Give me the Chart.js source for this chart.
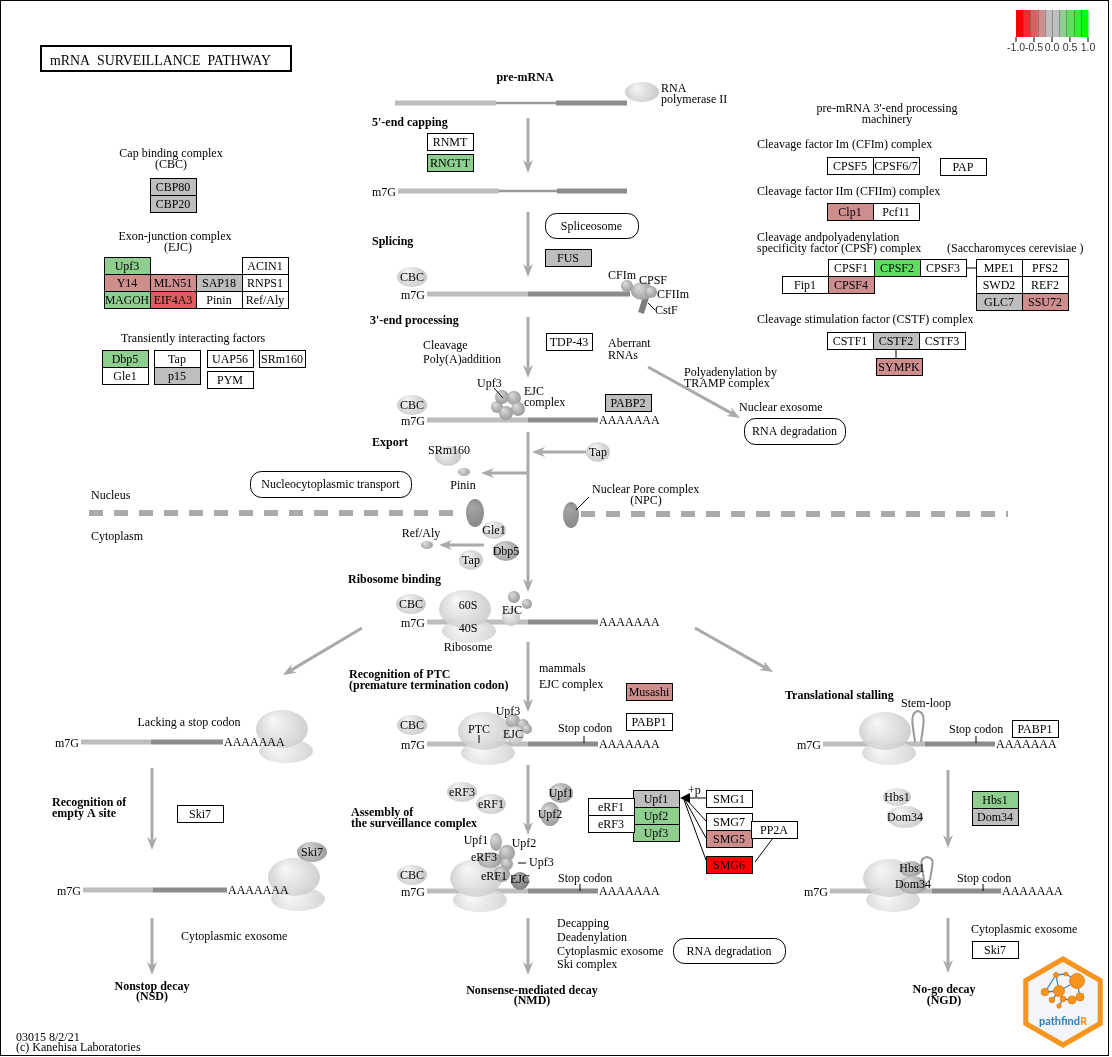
<!DOCTYPE html>
<html>
<head>
<meta charset="utf-8">
<title>mRNA surveillance pathway</title>
<script src="https://cdn.jsdelivr.net/npm/chart.js@4/dist/chart.umd.min.js"></script>
<style>
  html, body { margin: 0; padding: 0; background: #fff; }
  #wrap { width: 1112px; height: 1057px; }
</style>
</head>
<body>
<div id="wrap"><canvas id="kegg" width="1112" height="1057"></canvas></div>
<script>
// gene products shown in the map, in drawing order
const geneNames = [
  'CBP80', 'CBP20',
  'Upf3', 'ACIN1', 'Y14', 'MLN51', 'SAP18', 'RNPS1', 'MAGOH', 'EIF4A3', 'Pinin', 'Ref/Aly',
  'Dbp5', 'Gle1', 'Tap', 'p15', 'UAP56', 'PYM', 'SRm160',
  'RNMT', 'RNGTT', 'FUS', 'TDP-43', 'PABP2',
  'CPSF5', 'CPSF6/7', 'PAP', 'Clp1', 'Pcf11',
  'CPSF1', 'CPSF2', 'CPSF3', 'Fip1', 'CPSF4',
  'MPE1', 'PFS2', 'SWD2', 'REF2', 'GLC7', 'SSU72',
  'CSTF1', 'CSTF2', 'CSTF3', 'SYMPK',
  'Musashi', 'PABP1',
  'Upf1', 'Upf2', 'Upf3', 'eRF1', 'eRF3',
  'SMG1', 'SMG7', 'SMG5', 'PP2A', 'SMG6',
  'Ski7', 'PABP1', 'Hbs1', 'Dom34', 'Ski7'
];
// estimated log fold change per gene (null = not in the input)
const geneValues = [
  0.05, -0.1,
  0.3, null, -0.3, -0.28, 0.08, null, 0.27, -0.5, null, null,
  0.32, null, null, -0.05, null, null, null,
  null, 0.26, 0.1, null, -0.08,
  null, null, null, -0.32, null,
  null, 0.5, null, null, -0.35,
  null, null, null, null, 0.02, -0.3,
  null, 0.06, null, -0.33,
  -0.3, null,
  0.1, 0.3, 0.28, null, null,
  null, null, -0.31, null, -1.2,
  null, null, 0.29, -0.1, null
];
// colour key
const legendTicks = [-1.0, -0.5, 0.0, 0.5, 1.0];
const legendLabels = ['-1.0', '-0.5', '0.0', '0.5', '1.0'];
const legendColors = ['#FF0000', '#EF2F2F', '#DE5F5F', '#CE8E8E', '#BEBEBE',
                      '#BEBEBE', '#8ECE8E', '#5FDE5F', '#2FEF2F', '#00FF00'];

// ---- map layout (top-left corner of each gene box, 46 x 17) ----
const geneBoxes = [
  [150, 178], [150, 195],
  [104, 257], [242, 257], [104, 274], [150, 274], [196, 274], [242, 274], [104, 291], [150, 291], [196, 291], [242, 291],
  [102, 350], [102, 367], [154, 350], [154, 367], [207, 350], [207, 371], [259, 350],
  [427, 133], [427, 154], [545, 249], [546, 333], [605, 394],
  [827, 157], [873, 157], [940, 158], [827, 203], [873, 203],
  [828, 259], [874, 259], [920, 259], [782, 276], [828, 276],
  [976, 259], [1022, 259], [976, 276], [1022, 276], [976, 293], [1022, 293],
  [827, 332], [873, 332], [919, 332], [876, 358],
  [626, 683], [626, 713],
  [633, 790], [633, 807], [633, 824], [588, 798], [588, 815],
  [706, 790], [706, 813], [706, 830], [751, 821], [706, 856],
  [177, 805], [1012, 720], [972, 791], [972, 808], [972, 941]
];
const mapBoxes = [
  ['Spliceosome', 545, 213, 93, 25],
  ['RNA degradation', 744, 418, 101, 26],
  ['Nucleocytoplasmic transport', 250, 471, 161, 26],
  ['RNA degradation', 673, 938, 112, 25]
];
// mRNA: start, thin start, thin end, end, y, m7G cap, poly(A) tail
const mrnaLines = [
  [395, 496, 556, 627, 103, 0, 0],
  [398, 499, 557, 627, 191, 1, 0],
  [427, 528, 528, 630, 294, 1, 0],
  [427, 528, 528, 598, 420, 1, 1],
  [427, 528, 528, 598, 622, 1, 1],
  [81, 151, 151, 223, 742, 1, 1],
  [427, 528, 528, 598, 744, 1, 1],
  [823, 925, 925, 995, 744, 1, 1],
  [83, 153, 153, 227, 890, 1, 1],
  [427, 528, 528, 598, 891, 1, 1],
  [830, 932, 932, 1001, 891, 1, 1]
];
const grayArrows = [
  [528, 118, 528, 173], [528, 212, 528, 277], [528, 317, 528, 378], [528, 432, 528, 592],
  [586, 452, 532, 452], [528, 473, 481, 473], [484, 545, 439, 545], [648, 367, 740, 418],
  [362, 628, 283, 675], [695, 628, 773, 672], [528, 642, 528, 712], [528, 765, 528, 835],
  [528, 918, 528, 975], [152, 768, 152, 850], [152, 918, 152, 975], [948, 770, 948, 848],
  [948, 918, 948, 973]
];
const thinLines = [
  [967, 268, 976, 268], [896, 349, 896, 358], [773, 838, 755, 862],
  [706, 798, 688, 798], [706, 821, 686, 799], [706, 838, 685, 800], [706, 860, 684, 800],
  [584, 736, 584, 743], [976, 736, 976, 743], [580, 884, 580, 891], [983, 884, 983, 891],
  [479, 735, 479, 743], [494, 388, 503, 398], [518, 863, 526, 863], [576, 510, 589, 497],
  [648, 303, 655, 310]
];
// label, x, y, rx, ry, shade (0 light, 1 medium, 2 dark)
const spheres = [
  ['', 642, 92, 17, 10, 0],
  ['CBC', 412, 277, 15, 10, 0], ['CBC', 412, 405, 15, 10, 0], ['CBC', 411, 604, 15, 10, 0],
  ['CBC', 412, 725, 15, 10, 0], ['CBC', 412, 875, 15, 10, 0],
  ['', 448, 456, 13, 10, 0], ['', 464, 472, 6, 4, 1], ['Tap', 598, 452, 12, 10, 0],
  ['Gle1', 494, 530, 12, 9, 0], ['Dbp5', 506, 551, 13, 10, 1], ['Tap', 471, 560, 12, 10, 0],
  ['', 427, 545, 6, 4, 1],
  ['eRF3', 462, 792, 15, 10, 0], ['eRF1', 491, 804, 15, 10, 0],
  ['Upf1', 561, 793, 12, 10, 1], ['Upf2', 550, 814, 10, 12, 1],
  ['Hbs1', 897, 797, 14, 9, 0], ['Dom34', 905, 817, 18, 11, 0],
  ['Ski7', 312, 852, 15, 10, 1],
  // small complexes
  ['', 497, 407, 6, 6, 1], ['', 502, 397, 7, 7, 1], ['', 514, 398, 7, 7, 1], ['', 518, 409, 7, 7, 1], ['', 506, 413, 7, 7, 1],
  ['', 627, 286, 6, 6, 1], ['', 642, 291, 11, 9, 1], ['', 651, 292, 6, 6, 1],
  ['', 514, 597, 6, 6, 1], ['', 527, 604, 5, 5, 1], ['', 511, 617, 9, 9, 0],
  ['', 513, 721, 7, 7, 1], ['', 523, 725, 6, 6, 1], ['', 527, 729, 5, 5, 1], ['', 515, 735, 9, 9, 0],
  ['', 496, 842, 6, 9, 1], ['', 507, 853, 8, 8, 1], ['', 490, 860, 12, 8, 1],
  ['', 507, 864, 6, 6, 1], ['', 502, 874, 8, 8, 1], ['', 520, 881, 9, 9, 2],
  ['', 911, 869, 11, 8, 1], ['', 913, 885, 14, 9, 1]
];
// ribosomes: x, y where they sit on the mRNA
const ribosomes = [[467, 622], [284, 742], [296, 890], [486, 744], [478, 891], [887, 744], [891, 891]];
const labels = [
  ['Cap binding complex', 171, 154, 'c'], ['(CBC)', 171, 165, 'c'],
  ['Exon-junction complex', 175, 237, 'c'], ['(EJC)', 178, 248, 'c'],
  ['Transiently interacting factors', 193, 339, 'c'],
  ['pre-mRNA', 525, 78, 'c', 1], ['RNA', 661, 89], ['polymerase II', 661, 100],
  ["5'-end capping", 372, 123, 'l', 1], ['Splicing', 372, 242, 'l', 1],
  ['CFIm', 608, 276], ['CPSF', 639, 281], ['CFIIm', 657, 295], ['CstF', 655, 311],
  ["3'-end processing", 370, 321, 'l', 1],
  ['Cleavage', 423, 346], ['Poly(A)addition', 423, 360],
  ['Aberrant', 608, 344], ['RNAs', 608, 356],
  ['Polyadenylation by', 684, 373], ['TRAMP complex', 684, 384],
  ['Nuclear exosome', 739, 408],
  ['Upf3', 477, 384], ['EJC', 524, 392], ['complex', 524, 403],
  ['Export', 372, 443, 'l', 1], ['SRm160', 449, 451, 'c'], ['Pinin', 463, 486, 'c'],
  ['Nucleus', 91, 496], ['Cytoplasm', 91, 537],
  ['Nuclear Pore complex', 592, 490], ['(NPC)', 646, 501, 'c'], ['Ref/Aly', 421, 534, 'c'],
  ['Ribosome binding', 348, 580, 'l', 1],
  ['60S', 468, 606, 'c'], ['40S', 468, 629, 'c'], ['Ribosome', 468, 648, 'c'], ['EJC', 512, 611, 'c'],
  ['Lacking a stop codon', 189, 723, 'c'],
  ['Recognition of PTC', 349, 675, 'l', 1], ['(premature termination codon)', 349, 686, 'l', 1],
  ['mammals', 539, 669], ['EJC complex', 539, 685],
  ['Translational stalling', 785, 696, 'l', 1], ['Stem-loop', 901, 704],
  ['PTC', 479, 730, 'c'], ['Upf3', 508, 712, 'c'], ['EJC', 513, 735, 'c'],
  ['Stop codon', 558, 729], ['Stop codon', 949, 730],
  ['Recognition of', 52, 803, 'l', 1], ['empty A site', 52, 814, 'l', 1],
  ['Assembly of', 351, 813, 'l', 1], ['the surveillance complex', 351, 824, 'l', 1],
  ['+p', 688, 791],
  ['Upf1', 476, 841, 'c'], ['Upf2', 524, 844, 'c'], ['eRF3', 484, 858, 'c'], ['Upf3', 529, 863],
  ['eRF1', 494, 877, 'c'], ['EJC', 520, 880, 'c'], ['Stop codon', 558, 879],
  ['Hbs1', 912, 869, 'c'], ['Dom34', 913, 885, 'c'], ['Stop codon', 957, 879],
  ['Cytoplasmic exosome', 181, 937],
  ['Decapping', 557, 924], ['Deadenylation', 557, 938], ['Cytoplasmic exosome', 557, 952], ['Ski complex', 557, 965],
  ['Cytoplasmic exosome', 971, 930],
  ['Nonstop decay', 152, 987, 'c', 1], ['(NSD)', 152, 997, 'c', 1],
  ['Nonsense-mediated decay', 532, 991, 'c', 1], ['(NMD)', 532, 1001, 'c', 1],
  ['No-go decay', 944, 990, 'c', 1], ['(NGD)', 944, 1001, 'c', 1],
  ['03015 8/2/21', 16, 1038], ['(c) Kanehisa Laboratories', 16, 1048],
  ["pre-mRNA 3'-end processing", 887, 109, 'c'], ['machinery', 887, 120, 'c'],
  ['Cleavage factor Im (CFIm) complex', 757, 145],
  ['Cleavage factor IIm (CFIIm) complex', 757, 192],
  ['Cleavage andpolyadenylation', 757, 238],
  ['specificity factor (CPSF) complex', 757, 249],
  ['(Saccharomyces cerevisiae )', 947, 249],
  ['Cleavage stimulation factor (CSTF) complex', 757, 320]
];

const SERIF = '"Liberation Serif", "Times New Roman", serif';

function colorFor(v) {
  if (v === null) return '#FFFFFF';
  let i = Math.floor((v + 1) / 0.2 + 1e-9);
  i = Math.max(0, Math.min(legendColors.length - 1, i));
  return legendColors[i];
}

const keggPlugin = {
  id: 'keggPathway',
  afterDraw(chart) {
    const ctx = chart.ctx;
    const X = v => chart.scales.x.getPixelForValue(v);
    const Y = v => chart.scales.y.getPixelForValue(v);
    ctx.save();

    function seg(x0, y0, x1, y1, color, w) {
      ctx.strokeStyle = color; ctx.lineWidth = w;
      ctx.beginPath(); ctx.moveTo(X(x0), Y(y0)); ctx.lineTo(X(x1), Y(y1)); ctx.stroke();
    }
    function text(s, x, y, align, bold, size, color) {
      ctx.font = (bold ? 'bold ' : '') + (size || 12) + 'px ' + SERIF;
      ctx.textAlign = align === 'c' ? 'center' : align === 'r' ? 'right' : 'left';
      ctx.textBaseline = 'middle';
      ctx.fillStyle = color || '#000';
      ctx.fillText(s, X(x), Y(y));
    }
    function blob(x, y, rx, ry, light, dark) {
      const cx = X(x), cy = Y(y);
      const g = ctx.createRadialGradient(cx - rx * 0.35, cy - ry * 0.45, 1, cx, cy, Math.max(rx, ry) * 1.1);
      g.addColorStop(0, light); g.addColorStop(1, dark);
      ctx.fillStyle = g;
      ctx.beginPath(); ctx.ellipse(cx, cy, rx, ry, 0, 0, Math.PI * 2); ctx.fill();
    }
    function arrow(a) {
      const x0 = X(a[0]), y0 = Y(a[1]), x1 = X(a[2]), y1 = Y(a[3]);
      const ang = Math.atan2(y1 - y0, x1 - x0), c = Math.cos(ang), s = Math.sin(ang);
      const L = 13, H = 5, N = 9;
      ctx.strokeStyle = '#AAAAAA'; ctx.fillStyle = '#AAAAAA'; ctx.lineWidth = 3;
      ctx.beginPath(); ctx.moveTo(x0, y0); ctx.lineTo(x1 - N * c, y1 - N * s); ctx.stroke();
      ctx.beginPath();
      ctx.moveTo(x1, y1);
      ctx.lineTo(x1 - L * c + H * s, y1 - L * s - H * c);
      ctx.lineTo(x1 - N * c, y1 - N * s);
      ctx.lineTo(x1 - L * c - H * s, y1 - L * s + H * c);
      ctx.closePath(); ctx.fill();
    }

    // frame and title
    ctx.strokeStyle = '#000'; ctx.lineWidth = 1;
    ctx.strokeRect(X(0) + 0.5, Y(0) + 0.5, X(1108) - X(0), Y(1055) - Y(0));
    ctx.lineWidth = 2;
    ctx.strokeRect(X(41), Y(46), X(291) - X(41), Y(71) - Y(46));
    ctx.font = '15px ' + SERIF; ctx.textAlign = 'left'; ctx.textBaseline = 'middle'; ctx.fillStyle = '#000';
    ctx.fillText('mRNA  SURVEILLANCE  PATHWAY', X(50), Y(61), X(271) - X(50));

    // membrane
    ctx.setLineDash([14, 11]);
    seg(89, 513, 464, 513, '#AAAAAA', 6);
    seg(581, 514, 1008, 514, '#AAAAAA', 6);
    ctx.setLineDash([]);
    blob(475, 513, 9, 14, '#A4A4A4', '#868686');
    blob(571, 515, 8, 13, '#A4A4A4', '#868686');

    // mRNA molecules
    mrnaLines.forEach(m => {
      const [x0, xa, xb, x1, y] = m;
      if (xb > xa) {
        seg(x0, y, xa, y, '#BDBDBD', 5);
        seg(xa, y, xb, y, '#9A9A9A', 2.5);
        seg(xb, y, x1, y, '#8C8C8C', 5);
      } else {
        seg(x0, y, xa, y, '#BDBDBD', 5);
        seg(xa, y, x1, y, '#8C8C8C', 5);
      }
    });
    // stem-loops
    ctx.strokeStyle = '#999'; ctx.lineWidth = 2;
    [[918, 742, 711], [927, 880, 857]].forEach(s => {
      const bx = X(s[0]), by = Y(s[1]), ty = Y(s[2]);
      ctx.beginPath();
      ctx.moveTo(bx - 3, by);
      ctx.bezierCurveTo(bx - 5, by - 16, bx - 9, ty + 2, bx, ty);
      ctx.bezierCurveTo(bx + 9, ty + 2, bx + 5, by - 16, bx + 3, by);
      ctx.stroke();
    });

    // ribosomes
    ctx.globalAlpha = 0.88;
    ribosomes.forEach(r => {
      blob(r[0] + 2, r[1] + 9, 27, 12, '#F8F8F8', '#CDCDCD');
      blob(r[0] - 2, r[1] - 13, 26, 19, '#F4F4F4', '#C6C6C6');
    });
    ctx.globalAlpha = 1;

    // CstF bar
    seg(646, 297, 641, 313, '#7E7E7E', 6);

    // spheres
    spheres.forEach(s => {
      const [lab, x, y, rx, ry, shade] = s;
      if (shade === 0) blob(x, y, rx, ry, '#F4F4F4', '#C4C4C4');
      else if (shade === 1) blob(x, y, rx, ry, '#D6D6D6', '#979797');
      else blob(x, y, rx, ry, '#B0B0B0', '#7A7A7A');
      if (lab) text(lab, x, y + 1, 'c');
    });

    // cap and tail labels on top of the ribosomes
    mrnaLines.forEach(m => {
      if (m[5]) text('m7G', m[0] - 2, m[4] + 2, 'r');
      if (m[6]) text('AAAAAAA', m[3] + 1, m[4] + 1);
    });

    grayArrows.forEach(arrow);
    thinLines.forEach(l => seg(l[0], l[1], l[2], l[3], '#000', 1));
    // phosphorylation arrowhead on Upf1
    ctx.fillStyle = '#000';
    ctx.beginPath();
    ctx.moveTo(X(680), Y(798)); ctx.lineTo(X(690), Y(793)); ctx.lineTo(X(690), Y(803)); ctx.closePath(); ctx.fill();

    // pathway map links
    mapBoxes.forEach(b => {
      const [lab, x, y, w, h] = b;
      ctx.fillStyle = '#fff'; ctx.strokeStyle = '#000'; ctx.lineWidth = 1;
      ctx.beginPath();
      ctx.roundRect(X(x) + 0.5, Y(y) + 0.5, X(x + w) - X(x), Y(y + h) - Y(y), 11);
      ctx.fill(); ctx.stroke();
      text(lab, x + w / 2, y + h / 2 + 1, 'c');
    });

    // gene boxes from the dataset points
    const meta = chart.getDatasetMeta(0);
    const bw = X(46) - X(0), bh = Y(17) - Y(0);
    meta.data.forEach((pt, i) => {
      const left = Math.round(pt.x - bw / 2) + 0.5, top = Math.round(pt.y - bh / 2) + 0.5;
      ctx.fillStyle = colorFor(geneValues[i]);
      ctx.fillRect(left, top, bw, bh);
      ctx.strokeStyle = '#000'; ctx.lineWidth = 1;
      ctx.strokeRect(left, top, bw, bh);
      ctx.font = '12px ' + SERIF; ctx.textAlign = 'center'; ctx.textBaseline = 'middle'; ctx.fillStyle = '#000';
      ctx.fillText(geneNames[i], pt.x, pt.y + 1, bw - 2);
    });

    labels.forEach(l => text(l[0], l[1], l[2], l[3] || 'l', l[4]));

    // colour key
    const kx = v => 1016 + (v + 1) * 36;
    legendColors.forEach((c, i) => {
      const v0 = -1 + i * 0.2;
      ctx.fillStyle = c;
      ctx.fillRect(X(kx(v0)), Y(10), X(kx(v0 + 0.2)) - X(kx(v0)) + 0.5, Y(37) - Y(10));
    });
    ctx.strokeStyle = 'rgba(80,80,80,0.45)'; ctx.lineWidth = 1;
    for (let i = 1; i < legendColors.length; i++) {
      const px = Math.round(X(kx(-1 + i * 0.2))) + 0.5;
      ctx.beginPath(); ctx.moveTo(px, Y(10)); ctx.lineTo(px, Y(37)); ctx.stroke();
    }
    ctx.strokeStyle = '#555'; ctx.lineWidth = 1.5;
    legendTicks.forEach((v, i) => {
      const px = X(kx(v));
      ctx.beginPath(); ctx.moveTo(px, Y(37)); ctx.lineTo(px, Y(42)); ctx.stroke();
      ctx.font = '10.5px "Liberation Sans", Arial, sans-serif'; ctx.textAlign = 'center';
      ctx.fillStyle = '#333'; ctx.fillText(legendLabels[i], px, Y(48));
    });

    // pathfindR badge
    const hx = X(1063), hy = Y(1002), R = 43;
    ctx.beginPath();
    for (let k = 0; k < 6; k++) {
      const a = Math.PI / 180 * (60 * k - 90);
      const px = hx + R * Math.cos(a), py = hy + R * Math.sin(a);
      if (k) ctx.lineTo(px, py); else ctx.moveTo(px, py);
    }
    ctx.closePath();
    ctx.fillStyle = '#F3F5F8'; ctx.fill();
    ctx.lineWidth = 5; ctx.strokeStyle = '#F7941D'; ctx.stroke();
    const net = [[1059, 991, 5.5], [1077, 981, 7.5], [1045, 992, 3.8], [1056, 975, 2.5], [1052, 1000, 2.8],
                 [1063, 999, 2.8], [1072, 1000, 4], [1080, 997, 4], [1059, 1006, 2.2], [1066, 974, 2]];
    ctx.strokeStyle = '#3F86BD'; ctx.lineWidth = 1.3;
    [[0, 1], [0, 2], [0, 3], [0, 4], [0, 5], [5, 6], [6, 7], [5, 8], [3, 9], [9, 1], [2, 3], [1, 7]].forEach(e => {
      ctx.beginPath(); ctx.moveTo(X(net[e[0]][0]), Y(net[e[0]][1])); ctx.lineTo(X(net[e[1]][0]), Y(net[e[1]][1])); ctx.stroke();
    });
    net.forEach(n => {
      ctx.fillStyle = '#F7941D'; ctx.beginPath(); ctx.arc(X(n[0]), Y(n[1]), n[2], 0, Math.PI * 2); ctx.fill();
      ctx.strokeStyle = '#E07A10'; ctx.lineWidth = 0.8; ctx.stroke();
    });
    ctx.font = 'bold 11px Lato, "DejaVu Sans", sans-serif';
    ctx.textAlign = 'left'; ctx.textBaseline = 'middle';
    const w1 = ctx.measureText('pathfind').width, w2 = ctx.measureText('R').width;
    const tx = hx - (w1 + w2) / 2;
    ctx.fillStyle = '#2E7DB6'; ctx.fillText('pathfind', tx, Y(1021));
    ctx.fillStyle = '#F7941D'; ctx.fillText('R', tx + w1, Y(1021));

    ctx.restore();
  }
};

new Chart(document.getElementById('kegg'), {
  type: 'scatter',
  data: {
    datasets: [{
      label: 'Genes',
      data: geneBoxes.map(b => ({ x: b[0] + 23, y: b[1] + 8.5 })),
      pointRadius: 0,
      pointHoverRadius: 0
    }]
  },
  options: {
    responsive: false,
    animation: false,
    devicePixelRatio: 1,
    events: [],
    layout: { padding: 0 },
    scales: {
      x: { type: 'linear', min: 0, max: 1112, display: false },
      y: { type: 'linear', min: 0, max: 1057, reverse: true, display: false }
    },
    plugins: { legend: { display: false }, tooltip: { enabled: false } }
  },
  plugins: [keggPlugin]
});
</script>
</body>
</html>
